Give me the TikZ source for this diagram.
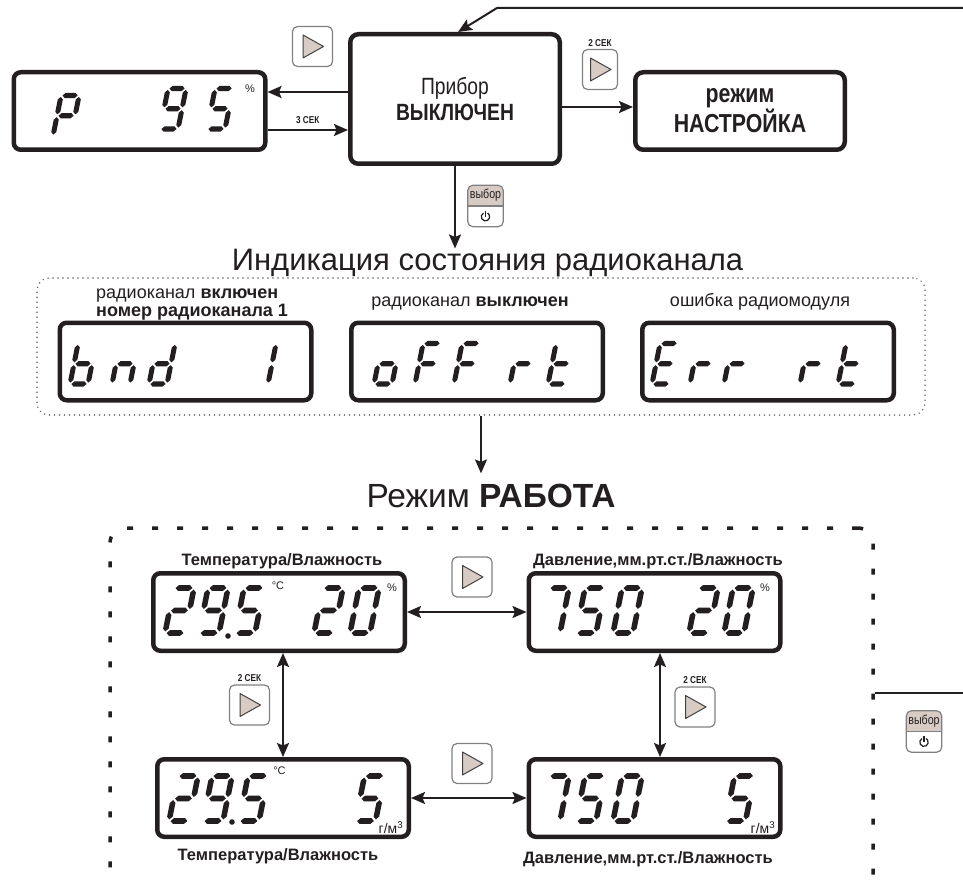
\documentclass[tikz,border=0pt]{standalone}
\usepackage{fontspec}
\setmainfont{Liberation Sans}
\newfontfamily\condfont[FakeStretch=0.82]{Liberation Sans}
\usetikzlibrary{arrows.meta,positioning}

\definecolor{ink}{HTML}{231F20}
\definecolor{keyfill}{RGB}{216,203,196}
\definecolor{keyline}{RGB}{128,128,128}

% seven-segment pieces (local frame, y up)
\newcommand{\hseg}[3]{\fill[ink] (#1,#3) -- (#1+2.8,#3+2.8) -- (#2-2.8,#3+2.8) -- (#2,#3) -- (#2-2.8,#3-2.8) -- (#1+2.8,#3-2.8) -- cycle;}
\newcommand{\vseg}[3]{\fill[ink] (#1,#2) -- (#1+2.8,#2+2.8) -- (#1+2.8,#3-2.8) -- (#1,#3) -- (#1-2.8,#3-2.8) -- (#1-2.8,#2+2.8) -- cycle;}
\newcommand{\sega}{\hseg{1.6}{18.4}{45}}
\newcommand{\segb}{\vseg{20}{24.1}{43.4}}
\newcommand{\segc}{\vseg{20}{1.6}{20.9}}
\newcommand{\segd}{\hseg{1.6}{18.4}{0}}
\newcommand{\sege}{\vseg{0}{1.6}{20.9}}
\newcommand{\segf}{\vseg{0}{24.1}{43.4}}
\newcommand{\segg}{\hseg{1.6}{18.4}{22.5}}

% one character: x, y (bottom left), scale, segments
\newcommand{\lcdchar}[4]{%
  \edef\lcdsegs{#4}%
  \begin{scope}[shift={(#1,#2)}, scale=#3, x=1pt, y=1pt, xslant=0.2]
    \foreach \sg in \lcdsegs {\csname seg\sg\endcsname}
  \end{scope}}

% triangle on a key
\newcommand{\playtri}[1]{%
  \filldraw[tri] ([shift={(-9.5,-11.5)}]#1.center) -- ([shift={(11,0)}]#1.center)
    -- ([shift={(-9.5,11.5)}]#1.center) -- cycle;}

% select key with power sign
\newcommand{\selkey}[3]{%
  \node[minimum width=35pt, minimum height=41pt, inner sep=0] (#1) at (#2,#3) {};
  \fill[white, rounded corners=5pt] (#1.north west) rectangle (#1.south east);
  \begin{scope}
    \clip[rounded corners=5pt] (#1.north west) rectangle (#1.south east);
    \fill[keyfill] (#1.north west) rectangle (#1.east);
  \end{scope}
  \draw[keyline, line width=1.2pt] (#1.west) -- (#1.east);
  \draw[keyline, line width=1.2pt, rounded corners=5pt] (#1.north west) rectangle (#1.south east);
  \node[font=\condfont\fontsize{13}{13}\selectfont, inner sep=0] at ([yshift=-10pt]#1.north) {выбор};
  \draw[ink, line width=1.2pt] ([yshift=10pt]#1.south) ++(120:4.2pt) arc[start angle=120, end angle=420, radius=4.2pt];
  \draw[ink, line width=1.2pt] ([yshift=10pt]#1.south) -- ++(0,-6);}

\begin{document}
\begin{tikzpicture}[x=1pt, y=-1pt,
  every node/.style={text=ink},
  lcd/.style={draw=ink, line width=4.5pt, rounded corners=7pt, fill=white,
    minimum width=251.5pt, minimum height=77.5pt, inner sep=0},
  statebox/.style={draw=ink, line width=4.5pt, rounded corners=8pt, fill=white,
    align=center, inner sep=0},
  keybox/.style={draw=keyline, line width=1.2pt, fill=white, rounded corners=5pt,
    minimum width=40pt, minimum height=40pt, inner sep=0},
  tri/.style={fill=keyfill, draw=ink!85, line width=1pt, line join=round},
  keylabel/.style={font=\condfont\fontsize{10}{10}\selectfont\bfseries, inner sep=0},
  unit/.style={font=\fontsize{11}{11}\selectfont, inner sep=0},
  radiolabel/.style={font=\fontsize{18}{19}\selectfont, inner sep=0},
  worklabel/.style={font=\fontsize{16.5}{17}\selectfont\bfseries, inner sep=0},
  radioframe/.style={draw=ink!70, line width=1.6pt, dash pattern=on 0pt off 5pt,
    line cap=round, rounded corners=12pt, minimum width=888pt,
    minimum height=137pt, inner sep=0},
  workframe/.style={draw=ink, line width=3.5pt, dash pattern=on 6pt off 19pt,
    rounded corners=15pt, minimum width=763pt, minimum height=365pt, inner sep=0},
  line/.style={draw=ink, line width=2pt},
  arr/.style={line, -{Stealth[length=14pt, width=12pt, inset=2.5pt]}},
  dbl/.style={line, {Stealth[length=14pt, width=12pt, inset=2.5pt]}-{Stealth[length=14pt, width=12pt, inset=2.5pt]}},
]
\useasboundingbox (0,0) rectangle (963,885);
\clip (0,0) rectangle (963,885);

% frames
\node[radioframe] (radio) at (481,346.5) {};
\node[workframe] (work) at (491.5,710.5) {};

% top row
\node[lcd] (p95) at (139.5,111) {};
\node[statebox, minimum width=209.5pt, minimum height=129.5pt,
  font=\condfont\fontsize{23.5}{26}\selectfont] (off) at (455,99)
  {Прибор\\\textbf{ВЫКЛЮЧЕН}};
\node[statebox, minimum width=209.5pt, minimum height=77.5pt,
  font=\condfont\fontsize{26}{27}\selectfont\bfseries] (setup) at (740,111)
  {режим\\НАСТРОЙКА};

% P 95
\lcdchar{53}{136}{0.9}{a,b,e,f,g}
\lcdchar{160}{129}{0.9}{a,b,c,d,f,g}
\lcdchar{207}{129}{0.9}{a,c,d,f,g}
\node[unit] at (250,89) {\%};

% keys of the top row
\node[keybox] (k1) at (312.5,46.5) {};
\playtri{k1}
\node[keybox, minimum width=35pt] (k2) at (600,69.5) {};
\playtri{k2}
\node[keylabel, above=2pt of k2] {2 СЕК};
\selkey{sel1}{485.5}{206}

% connectors of the top row
\draw[arr] ([yshift=7pt]off.west) -- ([yshift=7pt]off.west -| p95.east);
\draw[arr] ([yshift=-19pt]p95.east) -- node[keylabel, above=5pt] {3 СЕК}
  ([yshift=-19pt]p95.east -| off.west);
\draw[arr] ([yshift=-8pt]off.east) -- ([yshift=-8pt]off.east -| setup.west);
\coordinate (rtop) at (963,8);
\coordinate (rbend) at (497,8);
\draw[arr] (rtop) -- (rbend) -- ([xshift=3pt]off.north);

% radio channel state
\node[font=\fontsize{31}{36}\selectfont, anchor=base, inner sep=0] (title1) at (487.5,270)
  {Индикация состояния радиоканала};
\draw[arr] (off.south) -- (off.south |- title1.north);

\node[lcd] (r1) at (185.5,361.5) {};
\node[lcd] (r2) at (477,361.5) {};
\node[lcd] (r3) at (768,361.5) {};

\node[radiolabel, anchor=base west] (l1a) at (96,298) {радиоканал \textbf{включен}};
\node[radiolabel, anchor=base west] (l1b) at (96,316) {\textbf{номер радиоканала 1}};
\node[radiolabel, anchor=base] (l2) at (470,306) {радиоканал \textbf{выключен}};
\node[radiolabel, anchor=base] (l3) at (760,306) {ошибка радиомодуля};

% bnd 1
\lcdchar{70}{384}{0.9}{c,d,e,f,g}
\lcdchar{112}{384}{0.9}{c,e,g}
\lcdchar{149}{384}{0.9}{b,c,d,e,g}
\lcdchar{268}{384}{0.9}{e,f}
% oFF rt
\lcdchar{374}{384}{0.9}{c,d,e,g}
\lcdchar{415}{384}{0.9}{a,e,f,g}
\lcdchar{454}{384}{0.9}{a,e,f,g}
\lcdchar{510}{384}{0.9}{e,g}
\lcdchar{548}{384}{0.9}{d,e,f,g}
% Err rt
\lcdchar{652}{384}{0.9}{a,d,e,f,g}
\lcdchar{690}{384}{0.9}{e,g}
\lcdchar{724}{384}{0.9}{e,g}
\lcdchar{800}{384}{0.9}{e,g}
\lcdchar{838}{384}{0.9}{d,e,f,g}

% work mode
\node[font=\fontsize{33.5}{38}\selectfont, anchor=base, inner sep=0] (title2) at (491,507)
  {Режим \textbf{РАБОТА}};
\draw[arr, shorten >=10pt] (radio.south) -- (radio.south |- title2.north);

\node[lcd] (d1) at (279,612) {};
\node[lcd] (d2) at (654.5,612) {};
\node[lcd] (d3) at (283,798) {};
\node[lcd] (d4) at (654.5,798) {};

\node[worklabel, anchor=base] at (282,565) {Температура/Влажность};
\node[worklabel, anchor=base] at (658,565) {Давление,мм.рт.ст./Влажность};
\node[worklabel, anchor=base] at (278,860) {Температура/Влажность};
\node[worklabel, anchor=base] at (648,863) {Давление,мм.рт.ст./Влажность};

% 29.5 20
\lcdchar{165}{633}{1}{a,b,d,e,g}
\lcdchar{199}{633}{1}{a,b,c,d,f,g}
\lcdchar{235}{633}{1}{a,c,d,f,g}
\lcdchar{314}{633}{1}{a,b,d,e,g}
\lcdchar{350}{633}{1}{a,b,c,d,e,f}
\fill[ink] (228,636) circle[radius=2.8pt];
\node[unit] at (278,586) {°C};
\node[unit] at (392,588) {\%};
% 750 20
\lcdchar{540}{633}{1}{a,b,c}
\lcdchar{576}{633}{1}{a,c,d,f,g}
\lcdchar{613}{633}{1}{a,b,c,d,e,f}
\lcdchar{689}{633}{1}{a,b,d,e,g}
\lcdchar{724}{633}{1}{a,b,c,d,e,f}
\node[unit] at (765,588) {\%};
% 29.5 5
\lcdchar{169}{821}{1}{a,b,d,e,g}
\lcdchar{203}{821}{1}{a,b,c,d,f,g}
\lcdchar{239}{821}{1}{a,c,d,f,g}
\lcdchar{355.5}{821}{1}{a,c,d,f,g}
\fill[ink] (232,822) circle[radius=2.8pt];
\node[unit] at (279.5,771) {°C};
\node[unit, font=\fontsize{14}{14}\selectfont] at (391,828) {г/м\textsuperscript{3}};
% 750 5
\lcdchar{540}{821}{1}{a,b,c}
\lcdchar{576}{821}{1}{a,c,d,f,g}
\lcdchar{613}{821}{1}{a,b,c,d,e,f}
\lcdchar{725.5}{821}{1}{a,c,d,f,g}
\node[unit, font=\fontsize{14}{14}\selectfont] at (763,828) {г/м\textsuperscript{3}};

% keys of the work mode
\node[keybox] (k3) at (472,577) {};
\playtri{k3}
\node[keybox] (k4) at (249.5,705) {};
\playtri{k4}
\node[keylabel, above=3pt of k4] {2 СЕК};
\node[keybox] (k5) at (695,707) {};
\playtri{k5}
\node[keylabel, above=3pt of k5] {2 СЕК};
\node[keybox] (k6) at (472,763.5) {};
\playtri{k6}
\selkey{sel2}{924}{731.5}

% connectors of the work mode
\draw[dbl] (d1.east) -- (d2.west);
\draw[dbl] (d3.east) -- (d4.west);
\draw[dbl] (d1.south -| d3.north) -- (d3.north);
\draw[dbl] ([xshift=5.5pt]d2.south) -- ([xshift=5.5pt]d4.north);
\coordinate (rwork) at (963,693);
\draw[line] (work.east |- rwork) -- (rwork);

\end{tikzpicture}
\end{document}
